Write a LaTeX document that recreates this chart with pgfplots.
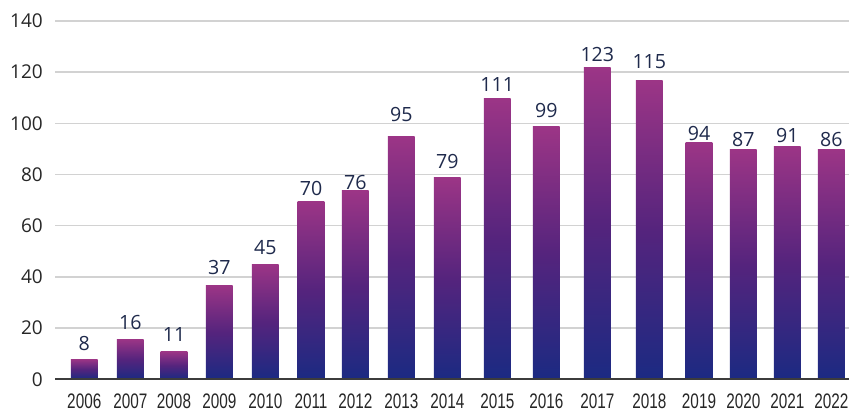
\documentclass[border=0pt]{standalone}
\usepackage{pgfplots}
\pgfplotsset{compat=1.18}
\usepackage{pgfplotstable}
\usepackage{fontspec}
\setmainfont{Open Sans}
\newfontfamily\narrowfont[FakeStretch=0.73]{Liberation Sans}
\definecolor{barblue}{HTML}{1B2A82}
\definecolor{barmid}{HTML}{55247D}
\definecolor{barmag}{HTML}{9C3586}
\definecolor{gridgray}{HTML}{D2D2D2}
\definecolor{axisdark}{HTML}{3C3C3C}
\definecolor{labnavy}{HTML}{1F2A4C}
\definecolor{ticktext}{HTML}{262626}

\pgfplotstableread{
x y lab
84.3 11.4 8
130.3 19.3 16
174.0 14.6 11
219.3 40.8 37
265.3 48.6 45
311.0 72.0 70
355.3 74.0 76
401.3 100.9 95
447.3 82.5 79
497.3 112.6 111
546.3 102.1 99
597.3 124.3 123
649.3 121.6 115
699.0 93.5 94
743.3 90.8 87
787.3 92.7 91
831.3 90.8 86
}\labdata

\newcommand{\gbar}[2]{%
  \addplot[ybar, bar width=26.7, bar shift=0pt, draw=none, shading=axis,
    bottom color=barblue, top color=barmag, middle color=barmid]
    coordinates {(#1,#2)};}

\begin{document}
\begin{tikzpicture}
\begin{axis}[
  at={(55bp,29.7bp)}, anchor=south west,
  scale only axis,
  width=806bp, height=358.3bp,
  xmin=55, xmax=861, ymin=0, ymax=140,
  ytick={0,20,...,140},
  xtick=data,
  xticklabels={2006,2007,2008,2009,2010,2011,2012,2013,2014,2015,2016,2017,2018,2019,2020,2021,2022},
  axis line style={draw=none},
  major tick length=0pt,
  ymajorgrids,
  grid style={draw=gridgray, line width=1.5bp},
  /pgf/number format/assume math mode=true,
  yticklabel style={anchor=east, inner sep=0pt, xshift=-12bp, font=\fontsize{19bp}{21bp}\selectfont, text=ticktext},
  xticklabel style={anchor=north, inner sep=0pt, yshift=-14bp, font=\narrowfont\fontsize{21bp}{23bp}\selectfont, text=ticktext},
  clip=false,
]
\addplot[draw=none, mark=none, nodes near coords, point meta=explicit symbolic,
  every node near coord/.style={anchor=base, inner sep=0pt, text=labnavy, font=\fontsize{19.6bp}{21bp}\selectfont}]
  table[x=x, y=y, meta=lab] {\labdata};
\gbar{84.3}{7.9}
\gbar{130.3}{15.7}
\gbar{174.0}{10.8}
\gbar{219.3}{36.8}
\gbar{265.3}{45.0}
\gbar{311.0}{69.6}
\gbar{355.3}{73.6}
\gbar{401.3}{95.0}
\gbar{447.3}{79.0}
\gbar{497.3}{109.9}
\gbar{546.3}{98.6}
\gbar{597.3}{122.0}
\gbar{649.3}{116.9}
\gbar{699.0}{92.7}
\gbar{743.3}{89.6}
\gbar{787.3}{91.1}
\gbar{831.3}{89.6}
\draw[axisdark, line width=2bp] (axis cs:55,0) -- (axis cs:861,0);
\end{axis}
\pgfresetboundingbox
\path[use as bounding box] (0,0) rectangle (849bp,409bp);
\end{tikzpicture}
\end{document}
